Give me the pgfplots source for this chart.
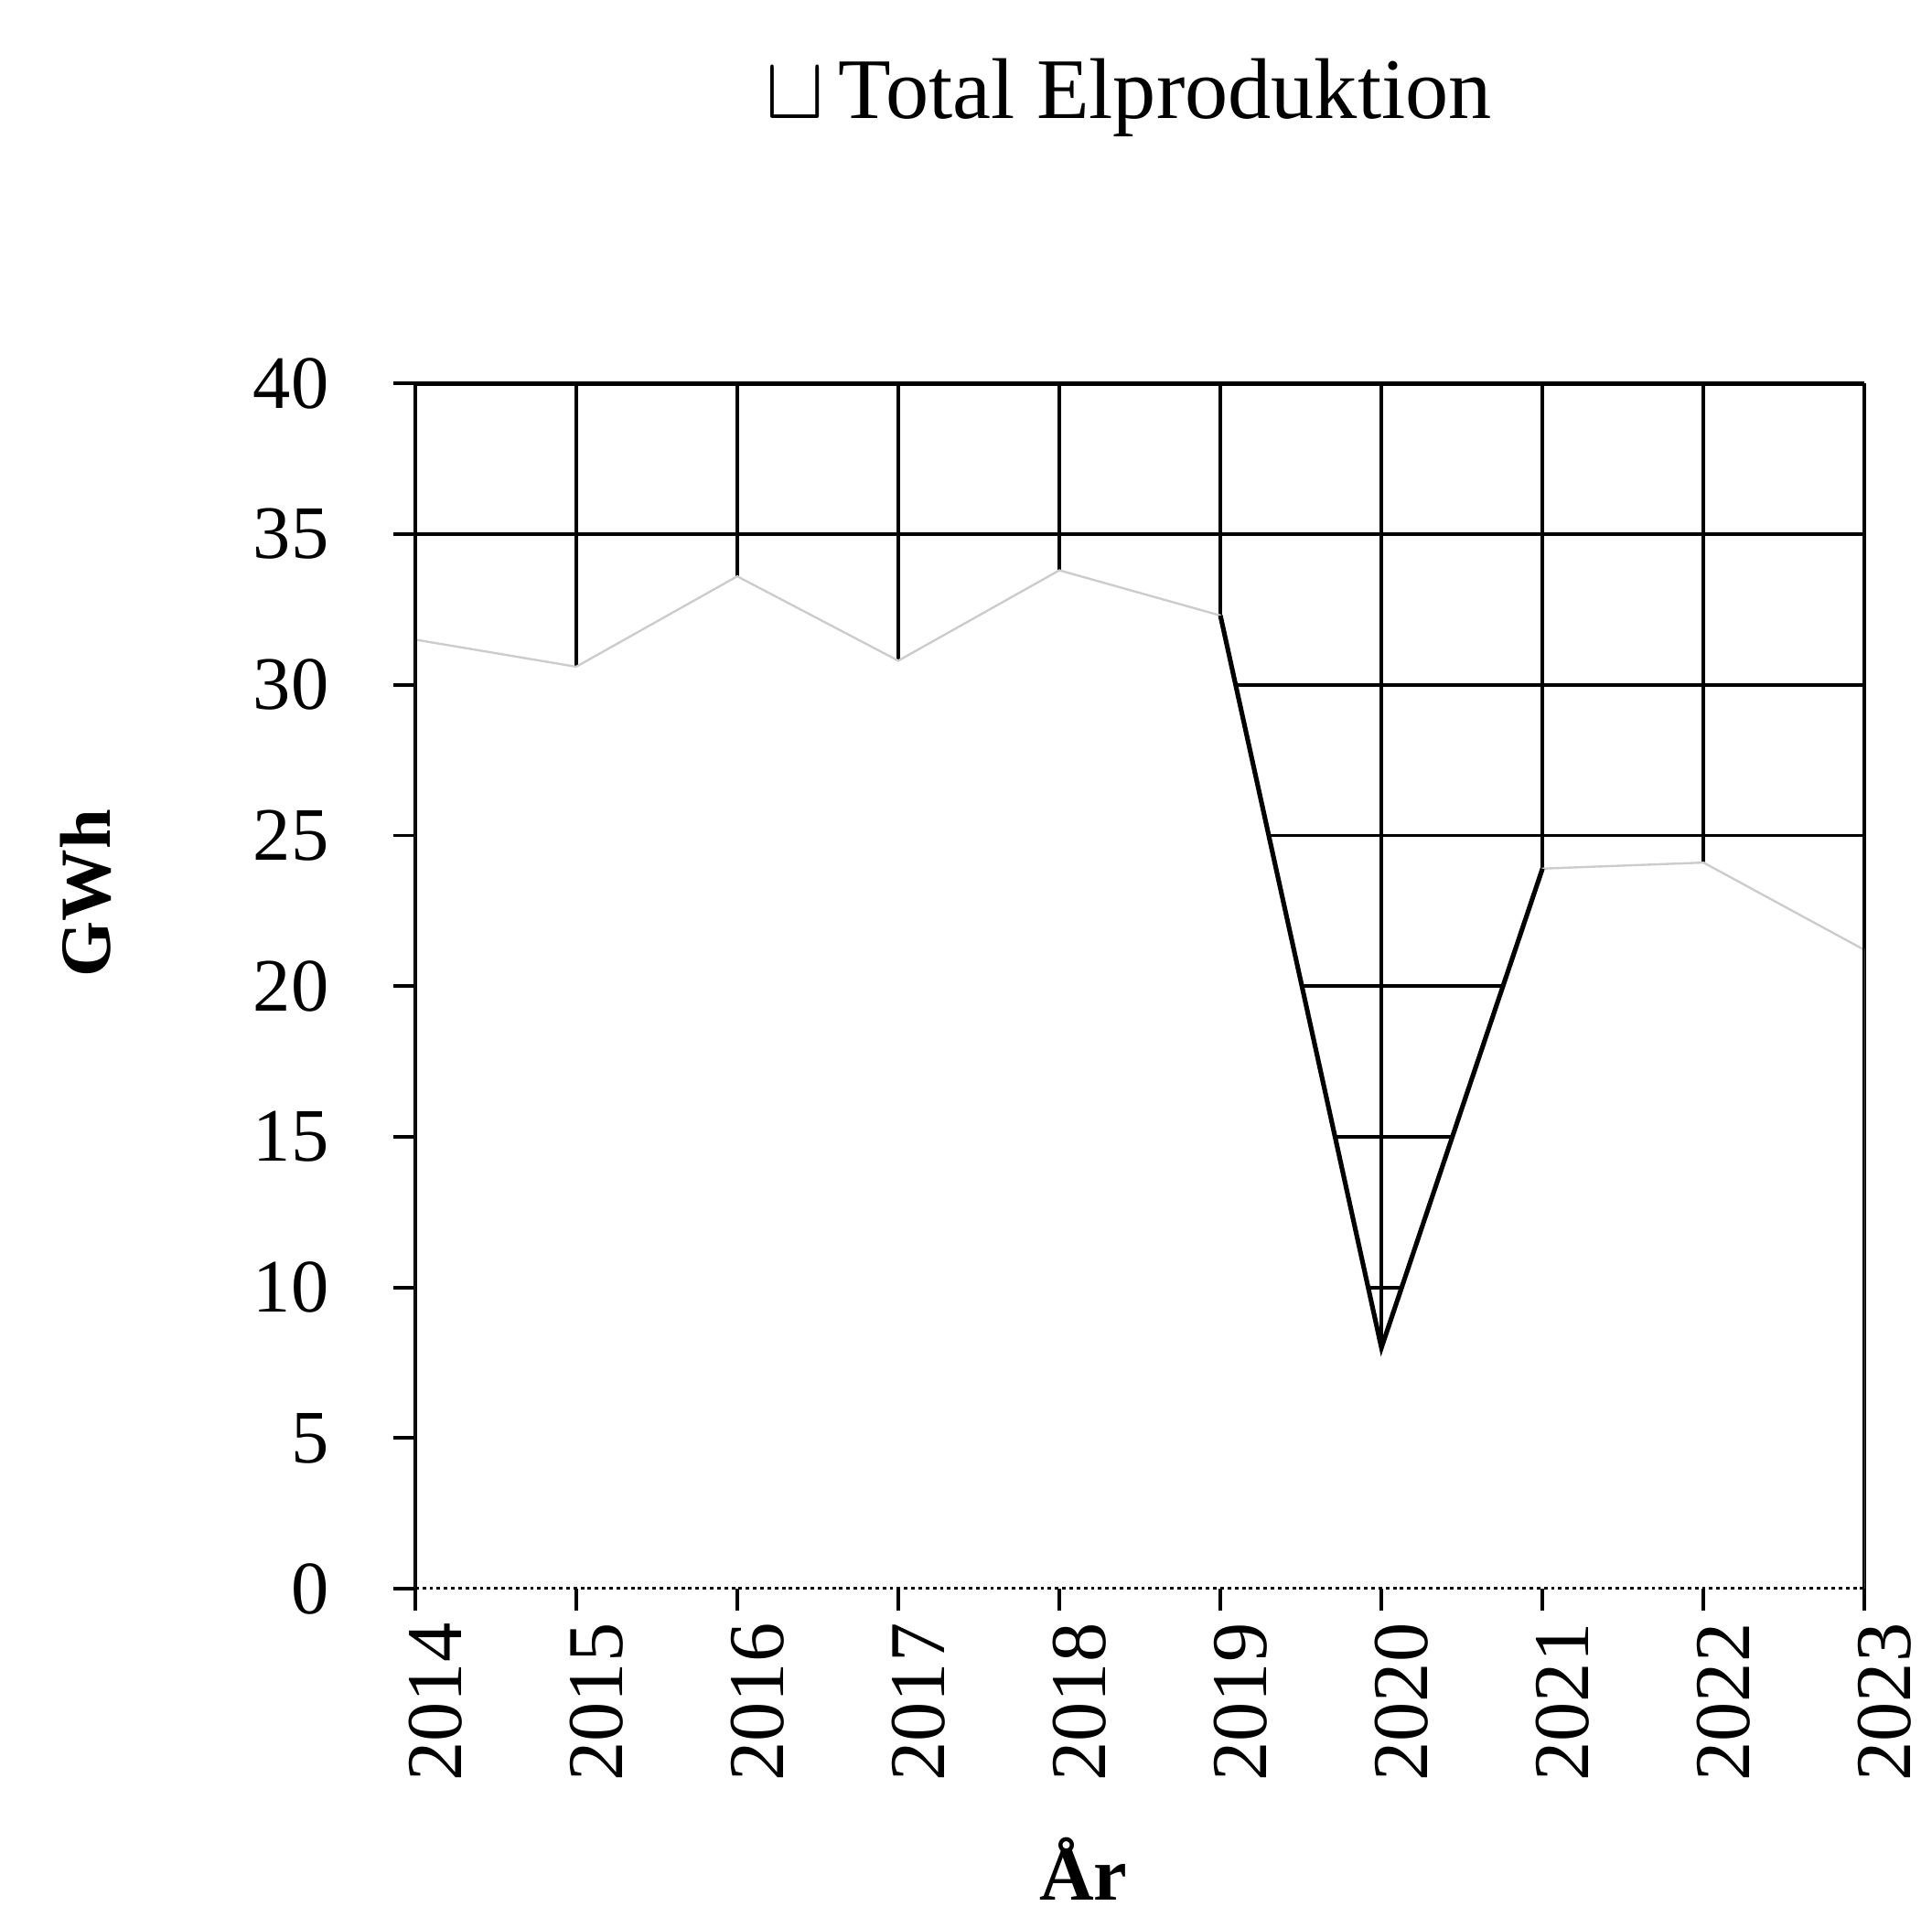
\documentclass[border=0pt]{standalone}
\usepackage{pgfplots}
\pgfplotsset{compat=1.18}
\usepackage{pgfplotstable}
\usepackage{fontspec}
\setmainfont{Liberation Serif}

\pgfplotstableread{
year value
2014 31.5
2015 30.6
2016 33.6
2017 30.8
2018 33.8
2019 32.3
2020 8.0
2021 23.9
2022 24.1
2023 21.2
}\datatable

\begin{document}
\begin{tikzpicture}
\useasboundingbox (-115.5pt,-91.3pt) rectangle (422pt,442.1pt);
\begin{axis}[
  at={(0,0)}, anchor=south west,
  scale only axis,
  width=403.25pt, height=335.4pt,
  xmin=2014, xmax=2023, ymin=0, ymax=40,
  xtick={2014,...,2023},
  ytick={5,10,...,40},
  extra y ticks={0},
  extra y tick style={grid=none},
  xmajorgrids, ymajorgrids,
  grid style={black, line width=1pt},
  axis line style={draw=none},
  tick align=outside,
  xtick pos=left, ytick pos=left,
  major tick length=6pt,
  tick style={black, line width=1pt},
  /pgf/number format/1000 sep={},
  /pgf/number format/assume math mode=true,
  yticklabel style={font=\fontsize{21}{25}\selectfont, anchor=east, xshift=-14.5pt},
  xticklabel style={font=\fontsize{22}{26}\selectfont, rotate=90, anchor=east, yshift=-5.7pt},
  title={$\sqcup$\,Total Elproduktion},
  title style={font=\fontsize{24}{28}\selectfont, at={(axis description cs:0.492,1)}, anchor=base, yshift=67.7pt},
  xlabel={År},
  ylabel={GWh},
  xlabel style={font=\fontsize{21}{25}\selectfont\bfseries, at={(axis description cs:0.461,-0.232)}, anchor=center},
  ylabel style={font=\fontsize{20}{24}\selectfont\bfseries, at={(axis description cs:-0.227,0.577)}, anchor=center},
]
\addplot[draw=none, fill=white] table[x=year, y=value] {\datatable} \closedcycle;
\addplot[black!20, line width=0.6pt] table[x=year, y=value] {\datatable};
\addplot[black, line width=1.3pt, restrict x to domain=2019:2021] table[x=year, y=value] {\datatable};
\draw[black, line width=1.2pt] (rel axis cs:0,0) -- (rel axis cs:0,1) -- (rel axis cs:1,1) -- (rel axis cs:1,0);
\draw[black, line width=1pt, densely dotted] (rel axis cs:0,0) -- (rel axis cs:1,0);
\end{axis}
\end{tikzpicture}
\end{document}
